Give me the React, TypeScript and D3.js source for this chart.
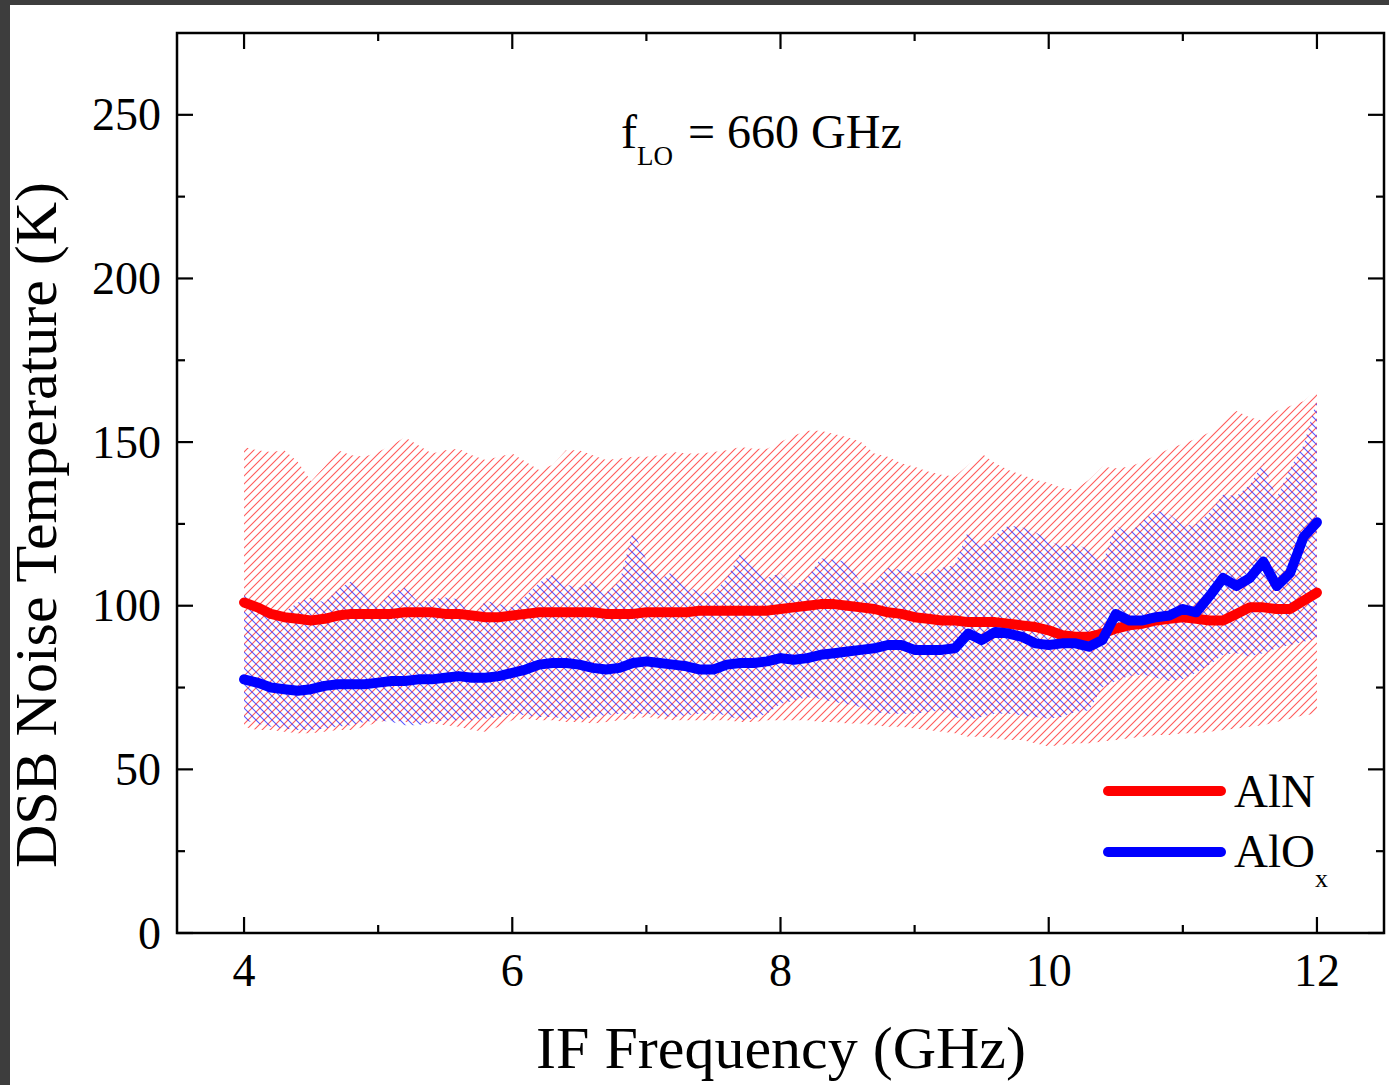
import React from "react";
import * as d3 from "d3";

const FREQ = [
  4.0, 4.1, 4.2, 4.3, 4.4, 4.5, 4.6, 4.7, 4.8, 4.9,
  5.0, 5.1, 5.2, 5.3, 5.4, 5.5, 5.6, 5.7, 5.8, 5.9,
  6.0, 6.1, 6.2, 6.3, 6.4, 6.5, 6.6, 6.7, 6.8, 6.9,
  7.0, 7.1, 7.2, 7.3, 7.4, 7.5, 7.6, 7.7, 7.8, 7.9,
  8.0, 8.1, 8.2, 8.3, 8.4, 8.5, 8.6, 8.7, 8.8, 8.9,
  9.0, 9.1, 9.2, 9.3, 9.4, 9.5, 9.6, 9.7, 9.8, 9.9,
  10.0, 10.1, 10.2, 10.3, 10.4, 10.5, 10.6, 10.7, 10.8, 10.9,
  11.0, 11.1, 11.2, 11.3, 11.4, 11.5, 11.6, 11.7, 11.8, 11.9,
  12.0,
];

const ALN_MEAN = [
  101, 99.5, 97.5, 96.5, 96, 95.5, 96, 97, 97.5, 97.5,
  97.5, 97.5, 98, 98, 98, 97.5, 97.5, 97, 96.5, 96.5,
  97, 97.5, 98, 98, 98, 98, 98, 97.5, 97.5, 97.5,
  98, 98, 98, 98, 98.5, 98.5, 98.5, 98.5, 98.5, 98.5,
  99, 99.5, 100, 100.5, 100.5, 100, 99.5, 99, 98, 97.5,
  96.5, 96, 95.5, 95.5, 95, 95, 95, 94.5, 94, 93.5,
  92.5, 91, 90.5, 90.5, 91.5, 93, 94, 94.5, 95.5, 96,
  96.5, 96, 95.5, 95.5, 97.5, 99.5, 99.5, 99, 99, 101.5,
  104,
];

const ALN_LOW = [
  63, 62, 62, 61.5, 61, 61, 61.5, 62, 62, 63,
  64.5, 65, 64.5, 64, 64, 63.5, 63, 62, 61.5, 63,
  65, 65.5, 65, 65, 64.5, 64.5, 64, 64.5, 65, 65.5,
  66, 65.5, 65, 65, 65, 65, 65, 64.5, 64.5, 65,
  65, 65, 65, 64.5, 64.5, 64, 64, 63.5, 63, 63,
  62.5, 62, 61.5, 61, 60, 60, 59.5, 59, 59, 58,
  57, 57.5, 58, 58, 58.5, 59, 59.5, 60, 60.5, 60.5,
  61, 61, 61.5, 62, 62.5, 63, 63.5, 64.5, 65.5, 66.5,
  67,
];

const ALN_HIGH = [
  148.5, 147.5, 147, 147.5, 144, 138, 142.5, 147.5, 146, 145.5,
  147, 149, 151.5, 149, 146.5, 147.5, 148, 146, 144.5, 145.5,
  146.5, 144, 141.5, 143, 147.5, 147.5, 146, 144.5, 145, 145.5,
  145.5, 146, 147, 146.5, 146.5, 147, 147.5, 148.5, 148, 148,
  150, 152, 153.5, 153.5, 152.5, 151.5, 150, 146.5, 145.5, 143.5,
  142.5, 141, 140, 139.5, 143, 146.5, 143.5, 141.5, 140, 138.5,
  137.5, 136, 135.5, 138.5, 142.5, 142, 142.5, 144, 146, 148,
  149.5, 151, 153, 157, 159.5, 157.5, 156.5, 159.5, 161, 162.5,
  166,
];

const ALOX_MEAN = [
  77.5, 76.5, 75, 74.5, 74, 74.5, 75.5, 76, 76, 76,
  76.5, 77, 77, 77.5, 77.5, 78, 78.5, 78, 78, 78.5,
  79.5, 80.5, 82, 82.5, 82.5, 82, 81, 80.5, 81, 82.5,
  83, 82.5, 82, 81.5, 80.5, 80.5, 82, 82.5, 82.5, 83,
  84, 83.5, 84, 85, 85.5, 86, 86.5, 87, 88, 88,
  86.5, 86.5, 86.5, 87, 91.5, 89.5, 92, 91.5, 90.5, 88.5,
  88, 88.5, 88.5, 87.5, 89.5, 97.5, 95.5, 95.5, 96.5, 97,
  99, 98, 103, 108.5, 106, 108.5, 113.5, 106, 110, 121,
  125.5,
];

const ALOX_LOW = [
  65, 64, 63, 62.5, 62, 62, 62.5, 63, 63.5, 64.5,
  65, 64.5, 63.5, 63.5, 64.5, 65, 65, 65, 65.5, 66,
  67, 66.5, 66, 66, 65.5, 65, 66, 66.5, 67, 67,
  67, 66.5, 66, 66.5, 67, 67, 66.5, 65, 65.5, 67,
  70, 71, 72, 71.5, 70.5, 70, 69, 67.5, 67, 67,
  67, 67.5, 68, 66, 65, 66, 67, 67, 66.5, 66,
  65.5, 66, 67.5, 68, 75, 77, 78.5, 79, 78, 77,
  77.5, 79.5, 82, 85, 85.5, 84.5, 85.5, 87, 88, 89,
  90,
];

const ALOX_HIGH = [
  104, 100, 98, 98, 101, 102.5, 101, 105, 107.5, 104.5,
  100, 104, 105.5, 101, 102, 102.5, 102, 96, 101.5, 100.5,
  99.5, 103, 107, 109.5, 106.5, 105.5, 108, 104, 107.5, 123,
  114, 108, 110.5, 106, 104, 104, 108.5, 116, 112, 108.5,
  110, 106, 108.5, 114.5, 114, 113.5, 107, 107, 111.5, 111,
  110, 110, 111.5, 112.5, 123, 118, 121.5, 124.5, 124, 122.5,
  120, 118, 119, 117, 113, 124.5, 122, 126, 129, 128,
  124.5, 125, 128.5, 134, 133.5, 137, 143.5, 133, 142, 149,
  163,
];

const X_TICKS = [4, 6, 8, 10, 12];
const X_MINOR = [5, 7, 9, 11];
const Y_TICKS = [0, 50, 100, 150, 200, 250];
const Y_MINOR = [25, 75, 125, 175, 225];

const W = 1389;
const H = 1085;
const L = 177, R = 1384, T = 33, B = 933;
const FONT = "'Liberation Serif', 'Times New Roman', serif";

type Pt = { f: number; lo: number; hi: number; m: number };

function build(lo: number[], hi: number[], m: number[]): Pt[] {
  return FREQ.map((f, i) => ({ f, lo: lo[i], hi: hi[i], m: m[i] }));
}

export default function App() {
  const x = d3.scaleLinear().domain([3.5, 12.5]).range([L, R]);
  const y = d3.scaleLinear().domain([0, 275]).range([B, T]);

  const aln = build(ALN_LOW, ALN_HIGH, ALN_MEAN);
  const alox = build(ALOX_LOW, ALOX_HIGH, ALOX_MEAN);

  const area = d3
    .area<Pt>()
    .x((d) => x(d.f))
    .y0((d) => y(d.lo))
    .y1((d) => y(d.hi));
  const line = d3
    .line<Pt>()
    .x((d) => x(d.f))
    .y((d) => y(d.m));

  const majorLen = 16;
  const minorLen = 8;
  const P = 8;

  return (
    <svg
      width={W}
      height={H}
      style={{ position: "absolute", left: 0, top: 0, background: "#ffffff" }}
    >
      <defs>
        <pattern id="hatchRed" patternUnits="userSpaceOnUse" width={P} height={P}>
          <path d={`M-1,1 L1,-1 M0,${P} L${P},0 M${P - 1},${P + 1} L${P + 1},${P - 1}`} stroke="#ff3030" strokeWidth={1.1} strokeOpacity={0.8} />
        </pattern>
        <pattern id="hatchBlue" patternUnits="userSpaceOnUse" width={P} height={P}>
          <path d={`M-1,${P - 1} L1,${P + 1} M0,0 L${P},${P} M${P - 1},-1 L${P + 1},1`} stroke="#3030ff" strokeWidth={1.1} strokeOpacity={0.8} />
        </pattern>
      </defs>
      <rect x={0} y={0} width={W} height={H} fill="#ffffff" />
      <rect x={0} y={0} width={W} height={5} fill="#3d3d3d" />
      <rect x={0} y={0} width={10} height={H} fill="#3d3d3d" />

      {/* bands */}
      <path d={area(aln) || ""} fill="url(#hatchRed)" />
      <path d={area(alox) || ""} fill="url(#hatchBlue)" />

      {/* mean lines */}
      <path d={line(aln) || ""} fill="none" stroke="#ff0000" strokeWidth={10} strokeLinejoin="round" strokeLinecap="round" />
      <path d={line(alox) || ""} fill="none" stroke="#0000ff" strokeWidth={10} strokeLinejoin="round" strokeLinecap="round" />

      {/* frame */}
      <rect x={L} y={T} width={R - L} height={B - T} fill="none" stroke="#000" strokeWidth={2.5} />

      {/* x ticks */}
      {X_TICKS.map((t) => (
        <g key={"xt" + t}>
          <line x1={x(t)} x2={x(t)} y1={B} y2={B - majorLen} stroke="#000" strokeWidth={2.2} />
          <line x1={x(t)} x2={x(t)} y1={T} y2={T + majorLen} stroke="#000" strokeWidth={2.2} />
          <text x={x(t)} y={986} textAnchor="middle" fontFamily={FONT} fontSize={46} fill="#000">
            {t}
          </text>
        </g>
      ))}
      {X_MINOR.map((t) => (
        <g key={"xm" + t}>
          <line x1={x(t)} x2={x(t)} y1={B} y2={B - minorLen} stroke="#000" strokeWidth={2.2} />
          <line x1={x(t)} x2={x(t)} y1={T} y2={T + minorLen} stroke="#000" strokeWidth={2.2} />
        </g>
      ))}

      {/* y ticks */}
      {Y_TICKS.map((t) => (
        <g key={"yt" + t}>
          <line x1={L} x2={L + majorLen} y1={y(t)} y2={y(t)} stroke="#000" strokeWidth={2.2} />
          <line x1={R} x2={R - majorLen} y1={y(t)} y2={y(t)} stroke="#000" strokeWidth={2.2} />
          <text x={161} y={y(t) + 15.5} textAnchor="end" fontFamily={FONT} fontSize={46} fill="#000">
            {t}
          </text>
        </g>
      ))}
      {Y_MINOR.map((t) => (
        <g key={"ym" + t}>
          <line x1={L} x2={L + minorLen} y1={y(t)} y2={y(t)} stroke="#000" strokeWidth={2.2} />
          <line x1={R} x2={R - minorLen} y1={y(t)} y2={y(t)} stroke="#000" strokeWidth={2.2} />
        </g>
      ))}

      {/* axis titles */}
      <text x={781} y={1068} textAnchor="middle" fontFamily={FONT} fontSize={60} fill="#000">
        IF Frequency (GHz)
      </text>
      <text
        transform={`translate(56, 525) rotate(-90)`}
        textAnchor="middle"
        fontFamily={FONT}
        fontSize={60}
        fill="#000"
      >
        DSB Noise Temperature (K)
      </text>

      {/* annotation */}
      <text x={621} y={148} fontFamily={FONT} fontSize={48} fill="#000">
        f
        <tspan fontSize={27} dy={17}>LO</tspan>
      </text>
      <text x={688} y={148} fontFamily={FONT} fontSize={48} fill="#000">
        = 660 GHz
      </text>

      {/* legend */}
      <line x1={1108} x2={1221} y1={791} y2={791} stroke="#ff0000" strokeWidth={10} strokeLinecap="round" />
      <text x={1234} y={807} fontFamily={FONT} fontSize={47} fill="#000">AlN</text>
      <line x1={1108} x2={1221} y1={852} y2={852} stroke="#0000ff" strokeWidth={10} strokeLinecap="round" />
      <text x={1234} y={867} fontFamily={FONT} fontSize={47} fill="#000">
        AlO
        <tspan fontSize={26} dy={20}>x</tspan>
      </text>
    </svg>
  );
}
